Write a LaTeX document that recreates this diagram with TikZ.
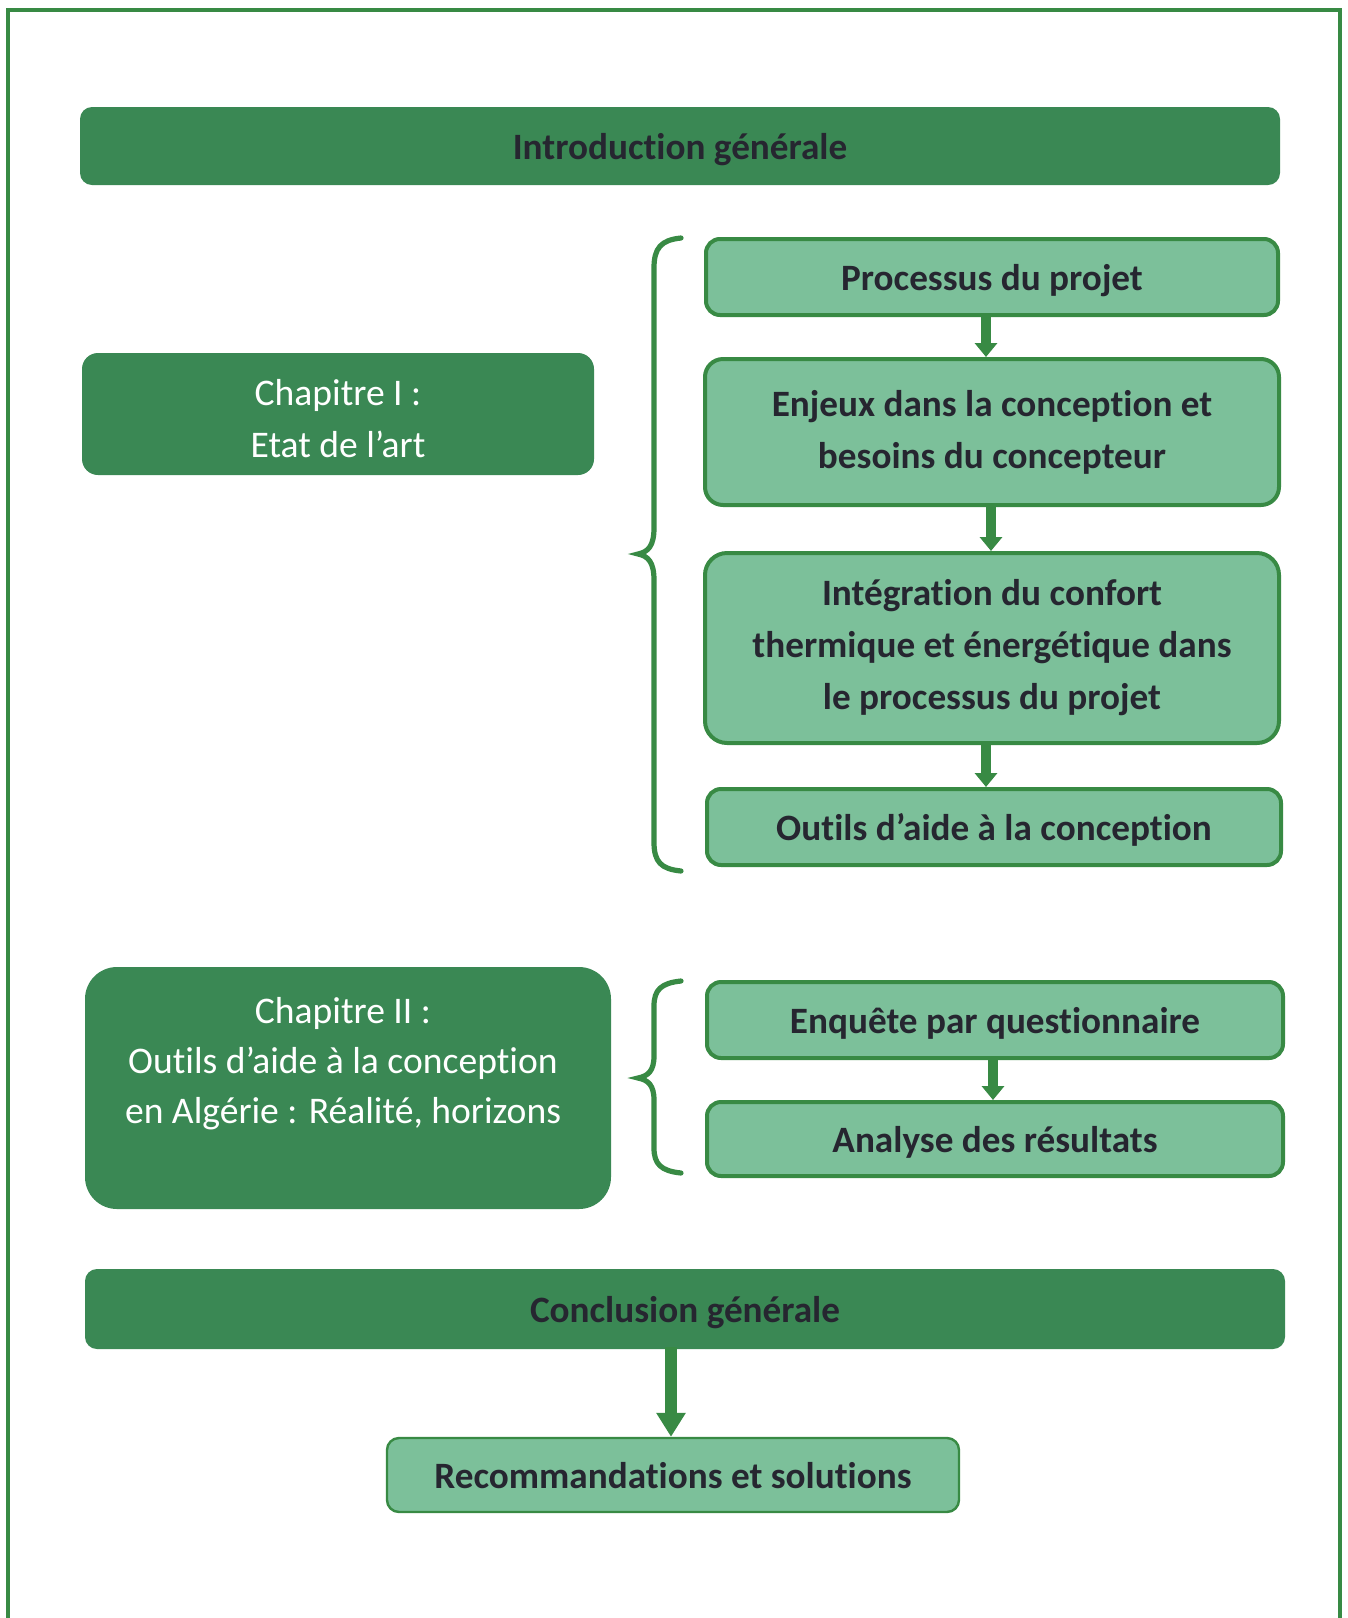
\documentclass[tikz,border=0pt]{standalone}
\usepackage{fontspec}
\setmainfont[Ligatures={NoCommon}]{Carlito}
\usetikzlibrary{arrows.meta}

\definecolor{darkgreen}{RGB}{58,136,84}
\definecolor{lightfill}{RGB}{124,192,154}
\definecolor{edgegreen}{RGB}{56,138,68}
\definecolor{inkdark}{RGB}{38,38,48}

\tikzset{
  boxtext/.style={font=\bfseries\fontsize{18.6}{26}\selectfont, align=center},
  oneline/.style={text height=13pt, text depth=0pt},
  darkbar/.style={boxtext, oneline, fill=darkgreen, draw=none, rounded corners=6pt, text=inkdark, inner sep=0pt},
  chapbox/.style={fill=darkgreen, draw=none, inner sep=0pt},
  chaptext/.style={font=\fontsize{18.8}{25}\selectfont, align=center, text=white, inner sep=0pt},
  stepbox/.style={boxtext, fill=lightfill, draw=edgegreen, line width=2pt, rounded corners=7pt, text=inkdark, inner sep=0pt},
  flowarrow/.style={draw=edgegreen, line width=5pt, -{Triangle[width=11pt,length=7pt]}, shorten <=-1pt},
  bigarrow/.style={draw=edgegreen, line width=6pt, -{Triangle[width=14pt,length=12pt]}, shorten <=-1pt},
  bracestroke/.style={draw=edgegreen, line width=2.6pt, line cap=round},
}

\begin{document}
\begin{tikzpicture}[x=0.5pt, y=-0.5pt]
  \useasboundingbox (0,0) rectangle (1348,1618);
  \fill[white] (0,0) rectangle (1348,1618);

  % page frame (runs past the lower edge)
  \draw[edgegreen, line width=2.2pt] (8,1680) -- (8,10) -- (1340,10) -- (1340,1680);

  % general introduction
  \node[darkbar, minimum width=600pt, minimum height=39pt] (intro) at (680,146) {Introduction générale};

  % chapter I
  \node[chapbox, rounded corners=8pt, minimum width=256pt, minimum height=61pt] (ch1) at (338,414) {};
  \node[chaptext] (ch1text) at (338,419) {Chapitre I :\\[1pt]Etat de l’art};

  \node[stepbox, oneline, minimum width=286pt, minimum height=38pt] (proc) at (992,277) {Processus du projet};
  \node[stepbox, rounded corners=9pt, minimum width=287pt, minimum height=73pt] (enj) at (992,432) {Enjeux dans la conception et\\besoins du concepteur};
  \node[stepbox, rounded corners=11pt, minimum width=287pt, minimum height=95pt] (integ) at (992,648) {Intégration du confort\\thermique et énergétique dans\\le processus du projet};
  \node[stepbox, oneline, minimum width=287pt, minimum height=38pt] (outils) at (994,827) {Outils d’aide à la conception};

  \draw[flowarrow] (proc.south -| 986,0) -- (enj.north -| 986,0);
  \draw[flowarrow] (enj.south -| 991,0) -- (integ.north -| 991,0);
  \draw[flowarrow] (integ.south -| 986,0) -- (outils.north -| 986,0);

  % brace grouping chapter I contents
  \coordinate (b1top) at (681,238);
  \coordinate (b1tip) at (638,554);
  \coordinate (b1bot) at (681,871);
  \draw[bracestroke] (b1top) .. controls (661,240) and (654,248) .. (654,268)
        -- (654,528) .. controls (654,546) and (648,552) .. (b1tip)
        .. controls (648,556) and (654,562) .. (654,580)
        -- (654,842) .. controls (654,862) and (661,869) .. (b1bot);

  % chapter II
  \node[chapbox, rounded corners=16pt, minimum width=263pt, minimum height=121pt] (ch2) at (348,1088) {};
  \node[chaptext] (ch2text) at (343,1064) {Chapitre II :\\Outils d’aide à la conception\\en Algérie : Réalité, horizons};

  \node[stepbox, oneline, minimum width=288pt, minimum height=38pt] (enq) at (995,1020) {Enquête par questionnaire};
  \node[stepbox, oneline, minimum width=288pt, minimum height=37pt] (ana) at (995,1139) {Analyse des résultats};
  \draw[flowarrow] (enq.south -| 993,0) -- (ana.north -| 993,0);

  % brace grouping chapter II contents
  \coordinate (b2top) at (681,981);
  \coordinate (b2tip) at (638,1078);
  \coordinate (b2bot) at (681,1173);
  \draw[bracestroke] (b2top) .. controls (661,983) and (654,990) .. (654,1006)
        -- (654,1056) .. controls (654,1071) and (648,1076) .. (b2tip)
        .. controls (648,1080) and (654,1085) .. (654,1100)
        -- (654,1148) .. controls (654,1164) and (661,1171) .. (b2bot);

  % general conclusion and outcome
  \node[darkbar, minimum width=600pt, minimum height=40pt] (concl) at (685,1309) {Conclusion générale};
  \node[stepbox, oneline, line width=1.2pt, rounded corners=6pt, minimum width=286pt, minimum height=37pt] (reco) at (673,1475) {Recommandations et solutions};
  \draw[bigarrow] (concl.south -| 671,0) -- (reco.north -| 671,0);
\end{tikzpicture}
\end{document}
